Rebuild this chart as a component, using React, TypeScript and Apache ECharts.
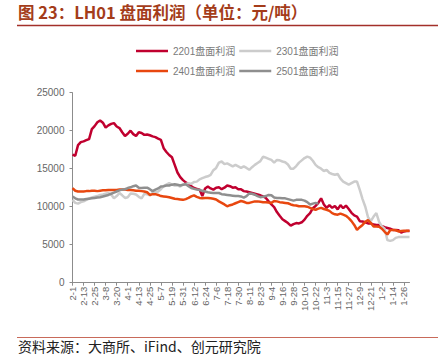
import React, { useEffect, useRef } from "react";
import * as echarts from "echarts";

// 3-day sampled calendar categories, 2-1 .. (2 steps past 1-26)
const startDate = Date.UTC(2020, 1, 1);
const categories: string[] = Array.from({ length: 123 }, (_, i) => {
  const d = new Date(startDate + i * 3 * 86400000);
  return `${d.getUTCMonth() + 1}-${d.getUTCDate()}`;
});

const s2201 = [
  16850, 16700, 18100, 18500, 18600, 18750, 18900, 20200, 20600, 21100,
  21350, 21050, 20400, 20700, 20900, 21000, 20550, 20350, 19800, 19300,
  19600, 20000, 19550, 19300, 19800, 19700, 19450, 19500, 19400, 19250,
  19150, 18950, 18800, 17700, 17200, 16800, 16500, 15500, 14500, 13900,
  13500, 13200, 12950, 12700, 12450, 12350, 12250, 11400, 12400, 12650,
  12400, 12250, 12500, 12550, 12300, 12500, 12800, 12700, 12500, 12550,
  12300, 12300, 12050, 12000, 11900, 11800, 11700, 11600, 11500, 11350,
  11150, 10700, 10300, 9950, 9300, 8800, 8350, 8100, 7850, 7500,
  7700, 7850, 7800, 7950, 8300, 8800, 9150, 9800, 10100, 10500,
  11100, 10300, 9850, 10200, 9850, 10100, 9650, 10200, 9800, 10150,
  9700, 9200, 8850, 8700, 8100, 8050, 7950, 7800, 7800, 7650,
  7600, 7600, 7450, 7300, 7200, 7100, 6950, 6950, 6900, 6600,
  6750, 6800, 6800,
];

const s2301 = [
  10900, 10500, 10400, 10600, 10700, 10900, 11100, 11200, 11300, 11400,
  11550, 11600, 11700, 11800, 11600, 11100, 11400, 11800, 11500, 11150,
  11250, 11750, 11700, 11600, 11300, 11100, 11700, 11650, 11500, 11800,
  11900, 12000, 12300, 12700, 12900, 13100, 12900, 12800, 12800, 12650,
  12900, 13000, 13100, 13000, 13250, 13300, 13600, 13750, 13900, 14000,
  14200, 14800, 15100, 15800, 15950, 15600, 15700, 15500, 15300, 15500,
  15300, 15100, 15300, 15100, 14850, 15200, 15500, 15750, 16000, 16600,
  16450, 16300, 16150, 15800, 16150, 16100, 15950, 15850, 15550, 15000,
  15000, 15350, 15800, 16100, 16400, 16600, 16450, 16050, 15500, 15200,
  15000, 14700, 14850, 14450, 14300, 14200, 14300, 13700, 13300, 13100,
  12900, 13100, 13300, 13300, 12200, 11000, 10000, 8600, 8100, 8700,
  9150, 8000, 7400, 7100, 5600, 5500, 5600, 5900, 6000, 6000,
  6000, 6000, 6000,
];

const s2401 = [
  12450, 12100, 12000, 12000, 12000, 12050, 12050, 12100, 12100, 12050,
  12100, 12150, 12150, 12200, 12200, 12200, 12200, 12250, 12250, 12250,
  12200, 12200, 12150, 12100, 12100, 12050, 12000, 11900, 11550, 11650,
  11650, 11550, 11400, 11350, 11300, 11250, 11150, 11050, 11000, 10950,
  10900, 11000, 11150, 11350, 11500, 11300, 11150, 11100, 11150, 11150,
  11100, 11050, 10950, 10700, 10500, 10300, 10050, 10200, 10300, 10450,
  10600, 10750, 10650, 10500, 10500, 10600, 10700, 10700, 10650, 10600,
  10600, 10550, 10500, 10750, 10700, 10600, 10550, 10500, 10450, 10300,
  10200, 10150, 10050, 10050, 10050, 10000, 9850, 9700, 9600, 9750,
  9850, 9700, 9600, 9450, 9150, 9000, 8950, 9100, 8950, 8800,
  8500, 8100, 7600, 6950, 7300, 7600, 8000, 8250, 7850, 7400,
  7400, 7350, 7100, 6700, 6350, 6900, 6950, 6900, 6750, 6800,
  6850, 6850, 6850,
];

const s2501 = [
  11350, 11100, 10950, 10950, 10950, 11000, 11050, 11100, 11150, 11200,
  11250, 11350, 11450, 11550, 11700, 11850, 12000, 12150, 12250, 12300,
  12450, 12550, 12700, 12800, 12500, 12450, 12500, 12500, 12300, 12050,
  12250, 12400, 12650, 12700, 12800, 12800, 12900, 12950, 12900, 12800,
  12900, 12950, 12700, 12450, 12350, 12250, 12200, 12100, 12000, 11900,
  11850, 11800, 11800, 11800, 11650, 11600, 11550, 11500, 11450, 11400,
  11400, 11350, 11200, 11400, 11750, 11700, 11580, 11400, 11250, 11300,
  11400, 11550, 11500, 11200, 11150, 11150, 11100, 11100, 11000, 10900,
  10800, 10900, 10900, 10900, 10800, 10600, 10300, 10400, 10500, 10400,
];

const seriesNames = ["2201盘面利润", "2301盘面利润", "2401盘面利润", "2501盘面利润"];
const seriesColors = ["#c0002f", "#cccccc", "#e8470f", "#8f8f8f"];
const seriesData = [s2201, s2301, s2401, s2501];
const yTicks = [0, 5000, 10000, 15000, 20000, 25000];

const titleText = "图 23：LH01 盘面利润（单位：元/吨）";
const sourceText = "资料来源：大商所、iFind、创元研究院";

export default function App() {
  const ref = useRef<HTMLDivElement>(null);
  useEffect(() => {
    document.body.style.margin = "0";
    const chart = echarts.init(ref.current!, undefined, { renderer: "svg" });
    const legendText = { color: "#7a7a7a", fontSize: 10, fontFamily: "Liberation Sans, Noto Sans CJK SC" };
    chart.setOption({
      animation: false,
      graphic: [
        {
          type: "text",
          left: 18,
          top: 4,
          style: {
            text: titleText,
            fill: "#a43c1a",
            font: "bold 16.5px 'Noto Sans CJK SC'",
          },
        },
        {
          type: "line",
          shape: { x1: 17, y1: 25.5, x2: 438, y2: 25.5 },
          style: { stroke: "#a3302a", lineWidth: 1.5 },
        },
        {
          type: "line",
          shape: { x1: 17, y1: 337.5, x2: 438, y2: 337.5 },
          style: { stroke: "#c86a5a", lineWidth: 1 },
        },
        {
          type: "text",
          left: 18,
          top: 339,
          style: {
            text: sourceText,
            fill: "#222222",
            font: "14px 'Noto Sans CJK SC'",
          },
        },
      ],
      legend: [
        {
          data: [seriesNames[0], seriesNames[1]],
          left: 131,
          top: 41,
          itemWidth: 32,
          itemHeight: 10,
          itemGap: 4,
          icon: "path://M0,4 L32,4 L32,6.5 L0,6.5 Z",
          textStyle: legendText,
        },
        {
          data: [seriesNames[2], seriesNames[3]],
          left: 131,
          top: 61,
          itemWidth: 32,
          itemHeight: 10,
          itemGap: 4,
          icon: "path://M0,4 L32,4 L32,6.5 L0,6.5 Z",
          textStyle: legendText,
        },
      ],
      grid: { left: 72.5, right: 28.5, top: 92.7, bottom: 76.3, containLabel: false },
      xAxis: {
        type: "category",
        data: categories,
        boundaryGap: false,
        axisLine: { lineStyle: { color: "#8c8c8c", width: 1 } },
        axisTick: { interval: 3, length: 3, lineStyle: { color: "#8c8c8c" } },
        axisLabel: {
          interval: 3,
          rotate: 90,
          color: "#666666",
          fontSize: 9.5,
          fontFamily: "Liberation Sans",
          margin: 4,
        },
      },
      yAxis: {
        type: "value",
        min: yTicks[0],
        max: yTicks[yTicks.length - 1],
        interval: 5000,
        axisLine: { show: true, lineStyle: { color: "#8c8c8c", width: 1 } },
        axisTick: { show: true, length: 3, lineStyle: { color: "#8c8c8c" } },
        splitLine: { show: false },
        axisLabel: {
          color: "#666666",
          fontSize: 10,
          fontFamily: "Liberation Sans",
          margin: 8,
          formatter: (v: number) => String(v),
        },
      },
      series: seriesData.map((d, k) => ({
        name: seriesNames[k],
        type: "line",
        data: d,
        symbol: "none",
        color: seriesColors[k],
        lineStyle: { width: 2.5, color: seriesColors[k] },
      })),
    });
    return () => chart.dispose();
  }, []);
  return <div ref={ref} style={{ width: 438, height: 359 }} />;
}
